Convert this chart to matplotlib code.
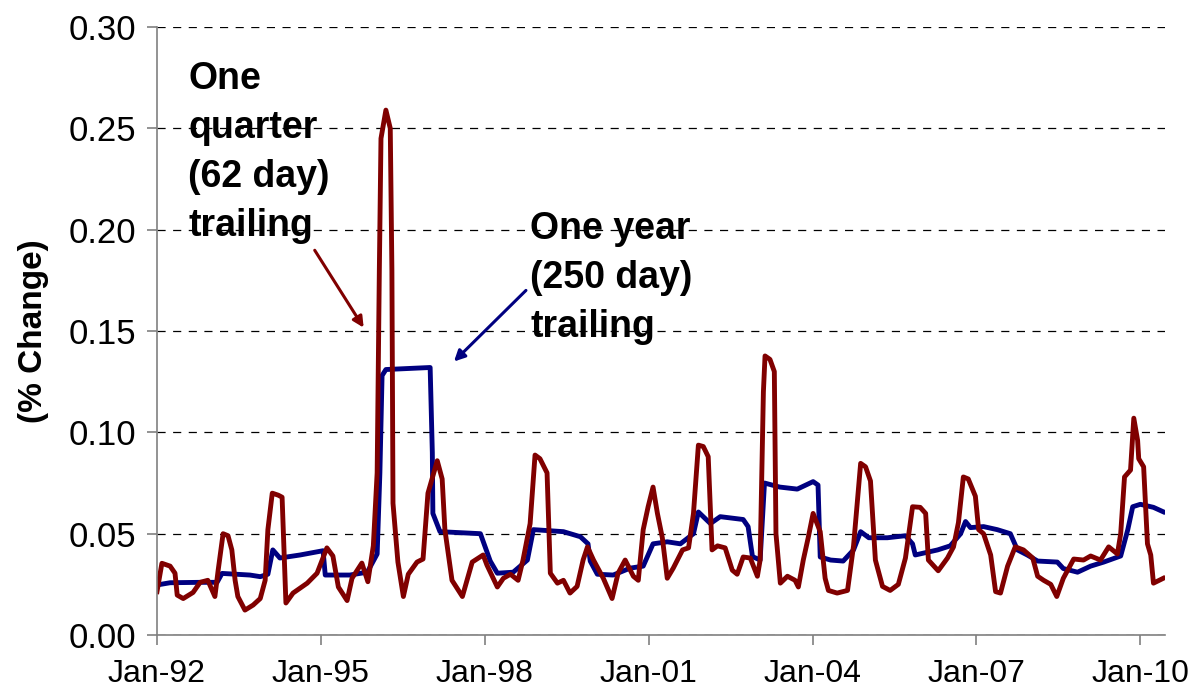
import matplotlib.pyplot as plt

# decimal years / values
year_250 = [1992.00, 1992.24, 1992.79, 1993.10, 1993.19, 1993.70, 1993.89, 1994.03, 1994.12, 1994.25,
            1994.62, 1995.04, 1995.08, 1995.53, 1995.85, 1996.03, 1996.08, 1996.12, 1996.19, 1997.00,
            1997.04, 1997.05, 1997.18, 1997.92, 1998.10, 1998.23, 1998.52, 1998.78, 1998.89, 1999.44,
            1999.75, 1999.89, 1999.93, 2000.06, 2000.35, 2000.66, 2000.90, 2001.08, 2001.34, 2001.58,
            2001.82, 2001.91, 2002.13, 2002.31, 2002.73, 2002.82, 2002.90, 2003.04, 2003.12, 2003.40,
            2003.72, 2004.01, 2004.10, 2004.14, 2004.33, 2004.56, 2004.75, 2004.88, 2005.03, 2005.37,
            2005.70, 2005.83, 2005.88, 2006.29, 2006.52, 2006.71, 2006.80, 2006.89, 2007.13, 2007.38,
            2007.62, 2007.75, 2007.93, 2008.12, 2008.48, 2008.59, 2008.85, 2009.09, 2009.33, 2009.64,
            2009.77, 2009.86, 2010.00, 2010.24, 2010.42]
vol_250 = [0.0247, 0.0258, 0.026, 0.026, 0.0304, 0.0296, 0.0288, 0.030, 0.042, 0.038,
           0.0395, 0.0416, 0.0296, 0.0296, 0.031, 0.040, 0.080, 0.128, 0.131, 0.132,
           0.090, 0.060, 0.051, 0.050, 0.0365, 0.0305, 0.031, 0.037, 0.052, 0.051,
           0.0485, 0.045, 0.0365, 0.030, 0.0296, 0.033, 0.034, 0.045, 0.046, 0.045,
           0.050, 0.0607, 0.055, 0.0584, 0.057, 0.0535, 0.0387, 0.037, 0.075, 0.073,
           0.072, 0.0757, 0.074, 0.0385, 0.037, 0.0365, 0.042, 0.051, 0.048, 0.048,
           0.049, 0.045, 0.0395, 0.042, 0.044, 0.050, 0.056, 0.053, 0.0535, 0.052,
           0.050, 0.042, 0.0395, 0.0365, 0.036, 0.0328, 0.031, 0.034, 0.036, 0.039,
           0.052, 0.0633, 0.0645, 0.063, 0.0608]

year_62 = [1992.00, 1992.09, 1992.24, 1992.33, 1992.37, 1992.48, 1992.66, 1992.79, 1992.93, 1993.06,
           1993.12, 1993.21, 1993.30, 1993.37, 1993.43, 1993.48, 1993.61, 1993.76, 1993.89, 1993.98,
           1994.03, 1994.11, 1994.22, 1994.29, 1994.31, 1994.36, 1994.49, 1994.75, 1994.93, 1995.11,
           1995.22, 1995.32, 1995.48, 1995.57, 1995.75, 1995.86, 1995.96, 1996.03, 1996.07, 1996.10,
           1996.19, 1996.27, 1996.30, 1996.32, 1996.41, 1996.51, 1996.60, 1996.76, 1996.87, 1996.96,
           1997.13, 1997.22, 1997.27, 1997.40, 1997.59, 1997.77, 1997.97, 1998.04, 1998.23, 1998.34,
           1998.47, 1998.61, 1998.70, 1998.83, 1998.92, 1999.01, 1999.14, 1999.20, 1999.33, 1999.44,
           1999.56, 1999.69, 1999.80, 1999.88, 1999.99, 2000.17, 2000.33, 2000.44, 2000.57, 2000.72,
           2000.81, 2000.90, 2000.99, 2001.08, 2001.16, 2001.25, 2001.34, 2001.45, 2001.62, 2001.73,
           2001.82, 2001.91, 2002.00, 2002.09, 2002.16, 2002.26, 2002.40, 2002.53, 2002.62, 2002.73,
           2002.86, 2002.99, 2003.04, 2003.10, 2003.13, 2003.22, 2003.30, 2003.33, 2003.41, 2003.54,
           2003.68, 2003.74, 2003.83, 2003.92, 2004.01, 2004.14, 2004.23, 2004.29, 2004.45, 2004.64,
           2004.75, 2004.88, 2004.97, 2005.06, 2005.15, 2005.28, 2005.42, 2005.57, 2005.70, 2005.83,
           2005.97, 2006.07, 2006.12, 2006.30, 2006.47, 2006.58, 2006.67, 2006.76, 2006.85, 2006.98,
           2007.04, 2007.13, 2007.26, 2007.35, 2007.44, 2007.57, 2007.71, 2007.86, 2008.03, 2008.12,
           2008.23, 2008.36, 2008.47, 2008.59, 2008.78, 2008.96, 2009.09, 2009.27, 2009.42, 2009.58,
           2009.64, 2009.71, 2009.82, 2009.88, 2009.95, 2009.97, 2010.06, 2010.13, 2010.19, 2010.24,
           2010.42]
vol_62 = [0.0214, 0.0354, 0.034, 0.0305, 0.0197, 0.018, 0.021, 0.026, 0.027, 0.019,
          0.032, 0.050, 0.049, 0.042, 0.027, 0.019, 0.0123, 0.0148, 0.018, 0.027,
          0.052, 0.070, 0.069, 0.068, 0.053, 0.0158, 0.0207, 0.0256, 0.0305, 0.043,
          0.039, 0.0237, 0.017, 0.028, 0.0355, 0.0263, 0.044, 0.080, 0.180, 0.245,
          0.259, 0.250, 0.180, 0.065, 0.036, 0.019, 0.030, 0.036, 0.0375, 0.070,
          0.086, 0.077, 0.052, 0.027, 0.019, 0.036, 0.0395, 0.0345, 0.0237, 0.028,
          0.030, 0.027, 0.037, 0.055, 0.0888, 0.087, 0.080, 0.0305, 0.0256, 0.027,
          0.0207, 0.024, 0.037, 0.0435, 0.037, 0.028, 0.018, 0.0305, 0.037, 0.029,
          0.027, 0.052, 0.0633, 0.073, 0.060, 0.048, 0.028, 0.033, 0.042, 0.043,
          0.060, 0.0937, 0.093, 0.088, 0.042, 0.044, 0.043, 0.032, 0.030, 0.0385,
          0.038, 0.029, 0.037, 0.120, 0.1377, 0.136, 0.130, 0.050, 0.0256, 0.029,
          0.027, 0.0237, 0.037, 0.048, 0.060, 0.051, 0.028, 0.022, 0.0207, 0.022,
          0.044, 0.0847, 0.083, 0.076, 0.037, 0.024, 0.022, 0.025, 0.038, 0.0633,
          0.063, 0.060, 0.037, 0.0317, 0.038, 0.0435, 0.0555, 0.078, 0.077, 0.0685,
          0.052, 0.050, 0.0395, 0.0214, 0.0207, 0.034, 0.0435, 0.042, 0.038, 0.029,
          0.027, 0.025, 0.019, 0.028, 0.0375, 0.037, 0.039, 0.037, 0.0435, 0.040,
          0.050, 0.078, 0.0814, 0.107, 0.096, 0.087, 0.083, 0.045, 0.0395, 0.0256,
          0.028]

tick_years = [1992, 1995, 1998, 2001, 2004, 2007, 2010]
tick_labels = ['Jan-92', 'Jan-95', 'Jan-98', 'Jan-01', 'Jan-04', 'Jan-07', 'Jan-10']
y_ticks = [0.00, 0.05, 0.10, 0.15, 0.20, 0.25, 0.30]

blue = '#000080'
red = '#800000'

plt.rcParams['font.family'] = ['Liberation Sans', 'DejaVu Sans']

fig = plt.figure(figsize=(11.92, 6.96), dpi=100)
ax = fig.add_axes([0.1317, 0.0876, 0.8456, 0.8736])

ax.plot(year_250, vol_250, color=blue, lw=3.5, solid_joinstyle='round')
ax.plot(year_62, vol_62, color=red, lw=3.5, solid_joinstyle='round')

ax.set_xlim(1992.0, 2010.45)
ax.set_ylim(0, 0.30)
ax.set_yticks(y_ticks)
ax.set_yticklabels([f'{v:.2f}' for v in y_ticks], fontsize=25)
ax.set_xticks(tick_years)
ax.set_xticklabels(tick_labels, fontsize=23)
ax.yaxis.grid(True, color='black', linestyle=(0, (6.5, 6)), linewidth=0.9)
ax.set_axisbelow(True)

for side in ['top', 'right']:
    ax.spines[side].set_visible(False)
for side in ['left', 'bottom']:
    ax.spines[side].set_color('#808080')
    ax.spines[side].set_linewidth(1.2)
ax.tick_params(axis='both', direction='out', length=7, color='#808080', width=1.2)
ax.tick_params(axis='y', pad=8)
ax.tick_params(axis='x', pad=10)

ax.set_ylabel('(% Change)', fontsize=24, fontweight='bold', labelpad=14)

ax.text(1992.57, 0.283, 'One\nquarter\n(62 day)\ntrailing', fontsize=27, fontweight='bold',
        va='top', ha='left', linespacing=1.46)
ax.text(1998.83, 0.209, 'One year\n(250 day)\ntrailing', fontsize=27, fontweight='bold',
        va='top', ha='left', linespacing=1.46)

ax.annotate('', xy=(1995.81, 0.1505), xytext=(1994.86, 0.191),
            arrowprops=dict(arrowstyle='-|>', color=red, lw=2.2, mutation_scale=16))
ax.annotate('', xy=(1997.40, 0.134), xytext=(1998.79, 0.171),
            arrowprops=dict(arrowstyle='-|>', color=blue, lw=2.2, mutation_scale=16))

fig.savefig('out.png', dpi=100)
